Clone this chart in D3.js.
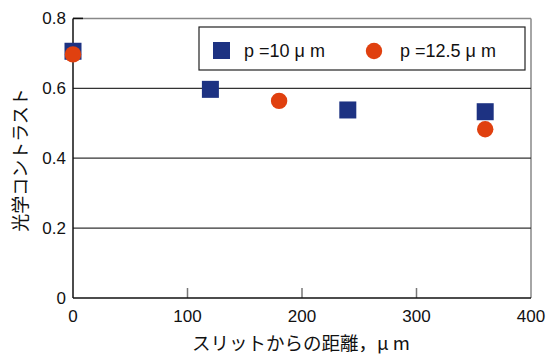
<!DOCTYPE html>
<html>
<head>
<meta charset="utf-8">
<script src="https://cdn.jsdelivr.net/npm/d3@7"></script>
<style>
body { margin: 0; background: #fff; }
text { font-family: "Liberation Sans", Arial, "Noto Sans CJK JP", sans-serif; fill: #111; }
.jp { font-family: "Noto Sans CJK JP", sans-serif; }
</style>
</head>
<body>
<script>
// 距離 (μm) と 光学コントラスト
var dist10 = [0, 120, 240, 360];
var contrast10 = [0.706, 0.597, 0.538, 0.533];
var dist125 = [0, 180, 360];
var contrast125 = [0.697, 0.564, 0.483];
var xTicks = [0, 100, 200, 300, 400];
var yTicks = [0, 0.2, 0.4, 0.6, 0.8];
var yTickLabels = ['0', '0.2', '0.4', '0.6', '0.8'];

var svg = d3.select('body').append('svg')
    .attr('width', 547)
    .attr('height', 356);

var x = d3.scaleLinear().domain([0, 400]).range([73, 531]);
var y = d3.scaleLinear().domain([0, 0.8]).range([298, 18.4]);

// frame top / right
svg.append('line')
    .attr('x1', x(0)).attr('x2', x(400))
    .attr('y1', y(0.8)).attr('y2', y(0.8))
    .attr('stroke', '#888').attr('stroke-width', 1.5);
svg.append('line')
    .attr('x1', x(400)).attr('x2', x(400))
    .attr('y1', y(0.8)).attr('y2', y(0))
    .attr('stroke', '#888').attr('stroke-width', 1.5);

// gridlines
svg.selectAll('.grid')
    .data([0.2, 0.4, 0.6])
    .enter().append('line')
    .attr('x1', x(0)).attr('x2', x(400))
    .attr('y1', function (d) { return y(d); })
    .attr('y2', function (d) { return y(d); })
    .attr('stroke', '#333').attr('stroke-width', 1.2);

// x ticks inward
svg.selectAll('.xt')
    .data([100, 200, 300])
    .enter().append('line')
    .attr('x1', function (d) { return x(d); })
    .attr('x2', function (d) { return x(d); })
    .attr('y1', y(0)).attr('y2', y(0) - 10)
    .attr('stroke', '#777').attr('stroke-width', 1.5);

// top-left tick
svg.append('line')
    .attr('x1', x(0)).attr('x2', x(0) + 10)
    .attr('y1', y(0.8)).attr('y2', y(0.8))
    .attr('stroke', '#111').attr('stroke-width', 1.5);

// axes
svg.append('line')
    .attr('x1', x(0)).attr('x2', x(0))
    .attr('y1', y(0.8)).attr('y2', y(0))
    .attr('stroke', '#111').attr('stroke-width', 1.5);
svg.append('line')
    .attr('x1', x(0)).attr('x2', x(400))
    .attr('y1', y(0)).attr('y2', y(0))
    .attr('stroke', '#111').attr('stroke-width', 1.5);

// tick labels
svg.selectAll('.xl')
    .data(xTicks)
    .enter().append('text')
    .attr('x', function (d) { return x(d); })
    .attr('y', 322)
    .attr('text-anchor', 'middle')
    .attr('font-size', 17)
    .text(function (d) { return d; });

svg.selectAll('.yl')
    .data(yTicks)
    .enter().append('text')
    .attr('x', 66)
    .attr('y', function (d) { return y(d) + 6; })
    .attr('text-anchor', 'end')
    .attr('font-size', 17)
    .text(function (d, i) { return yTickLabels[i]; });

// axis titles
svg.append('text')
    .attr('class', 'jp')
    .attr('x', 192).attr('y', 350)
    .attr('font-size', 18.5)
    .text('スリットからの距離，μ m');

svg.append('text')
    .attr('class', 'jp')
    .attr('transform', 'translate(27,160) rotate(-90)')
    .attr('text-anchor', 'middle')
    .attr('font-size', 18)
    .text('光学コントラスト');

// data points
svg.selectAll('.sq')
    .data(dist10)
    .enter().append('rect')
    .attr('x', function (d) { return x(d) - 8.5; })
    .attr('y', function (d, i) { return y(contrast10[i]) - 8.5; })
    .attr('width', 17).attr('height', 17)
    .attr('fill', '#1d3282');

svg.selectAll('.ci')
    .data(dist125)
    .enter().append('circle')
    .attr('cx', function (d) { return x(d); })
    .attr('cy', function (d, i) { return y(contrast125[i]); })
    .attr('r', 8.2)
    .attr('fill', '#e0400f');

// legend
svg.append('rect')
    .attr('x', 199).attr('y', 27)
    .attr('width', 326).attr('height', 43)
    .attr('fill', '#fff')
    .attr('stroke', '#222').attr('stroke-width', 1.2);
svg.append('rect')
    .attr('x', 213).attr('y', 42)
    .attr('width', 17).attr('height', 17)
    .attr('fill', '#1d3282');
svg.append('text')
    .attr('x', 244).attr('y', 57)
    .attr('font-size', 18)
    .text('p =10 μ m');
svg.append('circle')
    .attr('cx', 374).attr('cy', 51)
    .attr('r', 8.2)
    .attr('fill', '#e0400f');
svg.append('text')
    .attr('x', 400).attr('y', 57)
    .attr('font-size', 18)
    .text('p =12.5 μ m');
</script>
</body>
</html>
